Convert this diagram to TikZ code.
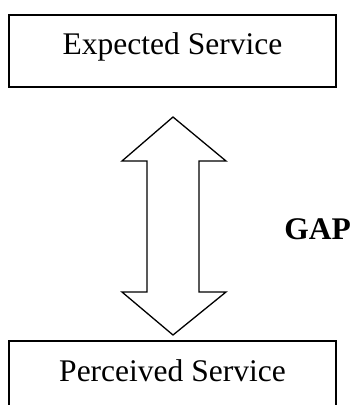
\documentclass[tikz,border=0pt]{standalone}
\usepackage{fontspec}
\setmainfont{Liberation Serif}
\begin{document}
\begin{tikzpicture}[x=1pt,y=1pt,
  servicebox/.style={draw=black,line width=1.8pt,inner sep=0pt,minimum width=327pt,anchor=north,font=\fontsize{31.5}{38}\selectfont},
  gaparrow/.style={draw=black,line width=1.3pt,line join=miter,fill=white},
  gaplabel/.style={font=\fontsize{31.5}{38}\selectfont\bfseries,inner sep=0pt,anchor=base}]
\useasboundingbox (0,0) rectangle (352,-405);
\node[servicebox,text height=40pt,text depth=32pt] (expected) at (172.5,-14) {Expected Service};
\node[servicebox,text height=41pt,text depth=45pt] (perceived) at (172.5,-340) {Perceived Service};
\coordinate (atop) at (173,-117);
\coordinate (abot) at (173,-335);
\draw[gaparrow] (atop) -- (226,-161) -- (199,-161) -- (199,-292) -- (226,-292) -- (abot)
  -- (122,-292) -- (147,-292) -- (147,-161) -- (122,-161) -- cycle;
\node[gaplabel] (gap) at (317.5,-239) {GAP};
\end{tikzpicture}
\end{document}
